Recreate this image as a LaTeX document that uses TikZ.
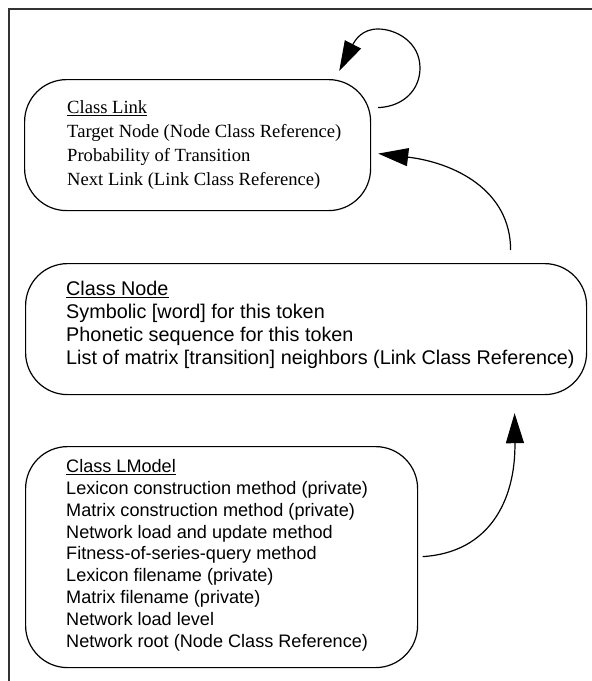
\documentclass[tikz,border=0pt]{standalone}
\usepackage{fontspec}
\setmainfont{Liberation Serif}
\setsansfont{Liberation Sans}
\usetikzlibrary{arrows.meta,calc}
\tikzset{
  classbox/.style={draw=black, line width=1.2pt, rounded corners=42pt, inner sep=0pt, anchor=north west},
  classtxt/.style={inner sep=0pt, anchor=north west, align=left},
  arr/.style={draw=black, line width=1.2pt, -{Triangle[length=30pt,width=18pt]}},
  frame/.style={draw=black!80, line width=2.3pt}
}
\begin{document}
\begin{tikzpicture}[x=1pt,y=-1pt]
\useasboundingbox (0,0) rectangle (592,681);
\draw[frame] (8.7,681) -- (8.7,9) -- (592,9);
% boxes
\node[classbox, minimum width=346pt, minimum height=131pt] (linkc) at (24,79) {};
\node[classbox, minimum width=561pt, minimum height=131pt] (nodec) at (25,263) {};
\node[classbox, minimum width=392pt, minimum height=221pt] (lmodelc) at (25,446) {};
% texts
\node[classtxt, font=\fontsize{18.6}{24}\selectfont] (linktxt) at (67,100.3)
  {\underline{Class Link}\\Target Node (Node Class Reference)\\Probability of Transition\\Next Link (Link Class Reference)};
\node[classtxt, font=\sffamily\fontsize{19.8}{23}\selectfont] (nodetxt) at (66,280.8)
  {\underline{Class Node}\\Symbolic [word] for this token\\Phonetic sequence for this token\\List of matrix [transition] neighbors (Link Class Reference)};
\node[classtxt, font=\sffamily\fontsize{18.1}{21.9}\selectfont] (lmodeltxt) at (66,459)
  {\underline{Class LModel}\\Lexicon construction method (private)\\Matrix construction method (private)\\Network load and update method\\Fitness-of-series-query method\\Lexicon filename (private)\\Matrix filename (private)\\Network load level\\Network root (Node Class Reference)};
% connectors
\draw[arr] ($(linkc.east)+(7,-37.5)$) .. controls +(25,-1) and +(0,22) .. (420,68)
   .. controls +(0,-26) and +(18,0) .. (378,29)
   .. controls +(-16,0) and +(16,-31) .. ($(linkc.north east)+(-32,-8)$);
\draw[arr] ($(nodec.north)+(204.5,-13)$) .. controls +(0,-60) and +(76,9) .. ($(linkc.east)+(7,8.5)$);
\draw[arr] ($(lmodelc.east)+(4.5,-0.5)$) .. controls +(66,-4) and +(1,88) .. ($(nodec.south)+(208.5,18)$);
\end{tikzpicture}
\end{document}
